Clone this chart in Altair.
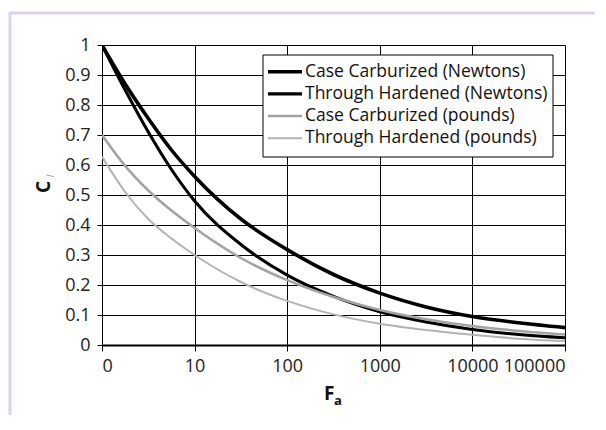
import altair as alt
import pandas as pd

# x position in decades: 0 -> "0", 1 -> "10", 2 -> "100", ...
u_pos = [0, 0.25, 0.5, 0.75, 1, 1.5, 2, 2.5, 3, 3.5, 4, 4.5, 5]
cc_newtons = [1.0, 0.87, 0.755, 0.65, 0.562, 0.42, 0.318, 0.235, 0.173, 0.127, 0.095, 0.074, 0.058]
th_newtons = [1.0, 0.85, 0.71, 0.585, 0.48, 0.335, 0.233, 0.162, 0.111, 0.077, 0.052, 0.035, 0.024]
cc_pounds = [0.70, 0.597, 0.515, 0.448, 0.39, 0.29, 0.216, 0.16, 0.117, 0.086, 0.063, 0.047, 0.035]
th_pounds = [0.628, 0.51, 0.42, 0.355, 0.30, 0.21, 0.147, 0.102, 0.071, 0.05, 0.034, 0.021, 0.013]

series_names = [
    "Case Carburized (Newtons)",
    "Through Hardened (Newtons)",
    "Case Carburized (pounds)",
    "Through Hardened (pounds)",
]
series_colors = ["#000000", "#000000", "#a3a3a3", "#b3b3b3"]
series_widths = [3.6, 2.0, 4.0, 2.2]

x_ticks = [0, 1, 2, 3, 4, 5]
x_labels = ["0", "10", "100", "1000", "10000", "100000"]
y_ticks = [0, 0.1, 0.2, 0.3, 0.4, 0.5, 0.6, 0.7, 0.8, 0.9, 1]

rows = []
for name, vals in zip(series_names, [cc_newtons, th_newtons, cc_pounds, th_pounds]):
    for i, (u, v) in enumerate(zip(u_pos, vals)):
        rows.append({"series": name, "u": u, "C": v, "order": i})
df = pd.DataFrame(rows)
legend_df = pd.DataFrame({"series": series_names, "idx": list(range(len(series_names)))})

FONT = "Open Sans"
W, H = 463, 300

label_expr = "[" + ",".join(f"'{l}'" for l in x_labels) + "][round(datum.value)]"

color_scale = alt.Scale(domain=series_names, range=series_colors)
width_scale = alt.Scale(domain=series_names, range=series_widths)

lines = alt.Chart(df).mark_line(interpolate="monotone", clip=True).encode(
    x=alt.X("u:Q", scale=alt.Scale(domain=[0, 5], nice=False),
            axis=alt.Axis(values=x_ticks, labelExpr=label_expr, title=None,
                          grid=True, gridColor="black", gridWidth=1, gridOpacity=1,
                          domainColor="black", domainWidth=2,
                          tickColor="black", tickSize=6, tickWidth=1,
                          labelFont=FONT, labelFontSize=18, labelColor="#222",
                          labelPadding=6)),
    y=alt.Y("C:Q", scale=alt.Scale(domain=[0, 1], nice=False),
            axis=alt.Axis(values=y_ticks, format="~g", title=None,
                          grid=True, gridColor="black", gridWidth=1, gridOpacity=1,
                          domainColor="black", domainWidth=1,
                          tickColor="black", tickSize=5, tickWidth=1,
                          labelFont=FONT, labelFontSize=18, labelColor="#222",
                          labelPadding=7)),
    color=alt.Color("series:N", scale=color_scale, legend=None),
    strokeWidth=alt.StrokeWidth("series:N", scale=width_scale, legend=None),
    order="order:Q",
    detail="series:N",
)

one = alt.Data(values=[{}])

# legend (box, line samples, labels)
leg_y = alt.Y("idx:Q", scale=alt.Scale(domain=[0, 3], range=[26.7, 93.3]), axis=None)
leg_box = alt.Chart(one).mark_rect(fill="white", stroke="black", strokeWidth=1).encode(
    x=alt.value(161), x2=alt.value(451), y=alt.value(10), y2=alt.value(112))
leg_sym = alt.Chart(legend_df).mark_rule().encode(
    x=alt.value(166), x2=alt.value(200), y=leg_y,
    color=alt.Color("series:N", scale=color_scale, legend=None),
    strokeWidth=alt.StrokeWidth("series:N", scale=width_scale, legend=None),
)
leg_txt = alt.Chart(legend_df).mark_text(
    font=FONT, fontSize=17.5, color="#111", align="left", baseline="middle"
).encode(x=alt.value(203), y=leg_y, text="series:N")


def txt(text, x, y, size, weight="normal", style="normal", color="#111", angle=0, align="left", baseline="alphabetic"):
    return alt.Chart(one).mark_text(
        text=text, font=FONT, fontSize=size, fontWeight=weight, fontStyle=style,
        color=color, angle=angle, align=align, baseline=baseline
    ).encode(x=alt.value(x), y=alt.value(y))

title_f = txt("F", 222, 355, 19, weight="bold")
title_a = txt("a", 232, 360, 13, weight="bold")
title_c = txt("C", -58, 142, 19, weight="bold", angle=270, align="center", baseline="middle")
title_l = txt("l", -51, 131, 10, style="italic", color="#999", angle=270, align="center", baseline="middle")

frame_top = alt.Chart(one).mark_rule(color="#dcd2ec", strokeWidth=3).encode(
    x=alt.value(-92), x2=alt.value(500), y=alt.value(-32))
frame_left = alt.Chart(one).mark_rule(color="#dcd2ec", strokeWidth=3).encode(
    x=alt.value(-92), y=alt.value(-33), y2=alt.value(370))

chart = alt.layer(
    frame_top, frame_left, lines, leg_box, leg_sym, leg_txt,
    title_f, title_a, title_c, title_l
).resolve_scale(y="independent").properties(
    width=W, height=H,
    autosize=alt.AutoSizeParams(type="none"),
    padding={"left": 94, "top": 37, "right": 30, "bottom": 70},
).configure_view(stroke=None).configure(background="white")

chart.save("out.html", embed_options={"renderer": "svg", "actions": False})
